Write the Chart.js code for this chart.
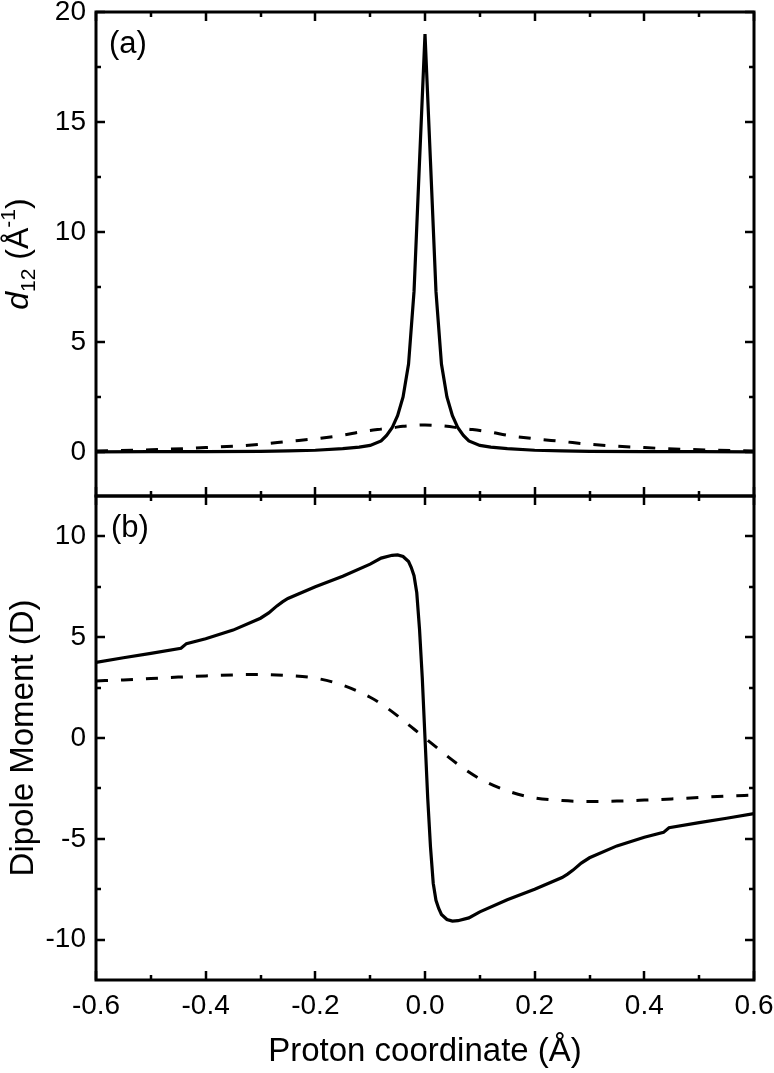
<!DOCTYPE html>
<html>
<head>
<meta charset="utf-8">
<script src="https://cdn.jsdelivr.net/npm/chart.js@4.4.1/dist/chart.umd.min.js"></script>
<style>
  html, body { margin: 0; padding: 0; background: #fff; }
  #wrap { width: 774px; height: 1073px; position: relative; }
</style>
</head>
<body>
<div id="wrap"><canvas id="c" width="774" height="1073"></canvas></div>
<script>
// ---------- data ----------
const xTicks = [-0.6, -0.4, -0.2, 0.0, 0.2, 0.4, 0.6];
const xMinorTicks = [-0.5, -0.3, -0.1, 0.1, 0.3, 0.5];
const yTopTicks = [0, 5, 10, 15, 20];
const yTopMinorTicks = [2.5, 7.5, 12.5, 17.5];
const yBotTicks = [-10, -5, 0, 5, 10];
const yBotMinorTicks = [-7.5, -2.5, 2.5, 7.5];

// panel (a): d12
const xTopSolid = [-0.6, -0.5, -0.4, -0.3, -0.25, -0.2, -0.15, -0.12, -0.1, -0.08, -0.07, -0.06, -0.05, -0.04, -0.03, -0.02, -0.01, 0,
                   0.01, 0.02, 0.03, 0.04, 0.05, 0.06, 0.07, 0.08, 0.1, 0.12, 0.15, 0.2, 0.25, 0.3, 0.4, 0.5, 0.6];
const d12Solid = [0.01, 0.02, 0.02, 0.03, 0.05, 0.08, 0.15, 0.22, 0.3, 0.5, 0.75, 1.1, 1.65, 2.5, 4.0, 7.3, 13.2, 19.0,
                  13.2, 7.3, 4.0, 2.5, 1.65, 1.1, 0.75, 0.5, 0.3, 0.22, 0.15, 0.08, 0.05, 0.03, 0.02, 0.02, 0.01];
const xTopDashed = [-0.6, -0.5, -0.4, -0.3, -0.25, -0.2, -0.15, -0.12, -0.1, -0.08, -0.06, -0.04, -0.02, 0,
                    0.02, 0.04, 0.06, 0.08, 0.1, 0.12, 0.15, 0.2, 0.25, 0.3, 0.4, 0.5, 0.6];
const d12Dashed = [0.05, 0.1, 0.2, 0.35, 0.48, 0.6, 0.76, 0.9, 0.98, 1.04, 1.1, 1.17, 1.21, 1.23,
                   1.21, 1.17, 1.1, 1.04, 0.98, 0.9, 0.76, 0.6, 0.48, 0.35, 0.2, 0.1, 0.05];

// panel (b): dipole moment
const xBotSolid = [-0.6, -0.55, -0.5, -0.445, -0.435, -0.4, -0.35, -0.3, -0.285, -0.27, -0.26, -0.25, -0.2, -0.15, -0.1, -0.08, -0.06, -0.05, -0.04, -0.03, -0.025, -0.02, -0.015, -0.01, -0.005, 0,
                   0.005, 0.01, 0.015, 0.02, 0.025, 0.03, 0.04, 0.05, 0.06, 0.08, 0.1, 0.15, 0.2, 0.25, 0.26, 0.27, 0.285, 0.3, 0.35, 0.4, 0.435, 0.445, 0.5, 0.55, 0.6];
const dipoleSolid = [3.75, 3.98, 4.2, 4.45, 4.68, 4.92, 5.35, 5.94, 6.2, 6.55, 6.75, 6.92, 7.5, 8.02, 8.62, 8.92, 9.06, 9.08, 9.0, 8.75, 8.45, 8.05, 7.2, 5.4, 3.0, 0,
                     -3.0, -5.4, -7.2, -8.05, -8.45, -8.75, -9.0, -9.08, -9.06, -8.92, -8.62, -8.02, -7.5, -6.92, -6.75, -6.55, -6.2, -5.94, -5.35, -4.92, -4.68, -4.45, -4.2, -3.98, -3.75];
const xBotDashed = [-0.6, -0.55, -0.5, -0.45, -0.4, -0.35, -0.3, -0.25, -0.2, -0.15, -0.1, -0.075, -0.05, -0.025, 0,
                    0.025, 0.05, 0.075, 0.1, 0.15, 0.2, 0.25, 0.3, 0.35, 0.4, 0.45, 0.5, 0.55, 0.6];
const dipoleDashed = [2.83, 2.88, 2.95, 3.02, 3.08, 3.13, 3.15, 3.1, 2.97, 2.62, 2.02, 1.6, 1.1, 0.55, 0,
                      -0.55, -1.1, -1.6, -2.02, -2.62, -2.97, -3.1, -3.15, -3.13, -3.08, -3.02, -2.95, -2.88, -2.83];

// ---------- helpers ----------
const pts = (xs, ys) => xs.map((x, i) => ({ x: x, y: ys[i] }));
const FONT = "'Liberation Sans', Arial, Helvetica, sans-serif";

const panelDecor = {
  id: 'panelDecor',
  afterDatasetsDraw(chart) {
    const ctx = chart.ctx;
    const sx = chart.scales.x, yT = chart.scales.yTop, yB = chart.scales.yBot;
    const L = sx.left, R = sx.right;
    ctx.save();
    ctx.strokeStyle = '#000';
    ctx.fillStyle = '#000';
    ctx.lineCap = 'butt';
    // ticks
    ctx.lineWidth = 2.5;
    const hTick = (s, vals, len) => vals.forEach(v => {
      const y = Math.round(s.getPixelForValue(v));
      ctx.beginPath();
      ctx.moveTo(L, y); ctx.lineTo(L + len, y);
      ctx.moveTo(R, y); ctx.lineTo(R - len, y);
      ctx.stroke();
    });
    const vTick = (vals, len) => vals.forEach(v => {
      const x = Math.round(sx.getPixelForValue(v));
      [yT, yB].forEach(s => {
        ctx.beginPath();
        ctx.moveTo(x, s.top); ctx.lineTo(x, s.top + len);
        ctx.moveTo(x, s.bottom); ctx.lineTo(x, s.bottom - len);
        ctx.stroke();
      });
    });
    hTick(yT, yTopTicks, 9); hTick(yT, yTopMinorTicks, 5);
    hTick(yB, yBotTicks, 9); hTick(yB, yBotMinorTicks, 5);
    vTick(xTicks, 9); vTick(xMinorTicks, 5);
    // frames
    ctx.lineWidth = 3;
    [yT, yB].forEach(s => ctx.strokeRect(L, s.top, R - L, s.bottom - s.top));
    // panel labels
    ctx.font = '31px ' + FONT;
    ctx.textBaseline = 'middle';
    ctx.textAlign = 'left';
    ctx.fillText('(a)', L + 13, yT.top + 32);
    ctx.fillText('(b)', L + 15, yB.top + 32);
    // y title of panel (a): d12 (Å-1)
    const cy = (yT.top + yT.bottom) / 2;
    ctx.translate(28, cy);
    ctx.rotate(-Math.PI / 2);
    const parts = [
      { t: 'd', f: 'italic 32px ' + FONT, dy: 0 },
      { t: '12', f: '21px ' + FONT, dy: 7 },
      { t: ' (Å', f: '32px ' + FONT, dy: 0 },
      { t: '-1', f: '21px ' + FONT, dy: -13 },
      { t: ')', f: '32px ' + FONT, dy: 0 }
    ];
    let total = 0;
    parts.forEach(p => { ctx.font = p.f; p.w = ctx.measureText(p.t).width; total += p.w; });
    let px = -total / 2;
    ctx.textBaseline = 'alphabetic';
    parts.forEach(p => { ctx.font = p.f; ctx.fillText(p.t, px, p.dy); px += p.w; });
    ctx.restore();
  }
};

const tickFont = { family: FONT, size: 28 };

new Chart(document.getElementById('c'), {
  type: 'line',
  data: {
    datasets: [
      { data: pts(xTopSolid, d12Solid), yAxisID: 'yTop', borderColor: '#000', borderWidth: 3.2, pointRadius: 0, tension: 0, fill: false },
      { data: pts(xTopDashed, d12Dashed), yAxisID: 'yTop', borderColor: '#000', borderWidth: 3, borderDash: [12, 13], pointRadius: 0, cubicInterpolationMode: 'monotone', fill: false },
      { data: pts(xBotSolid, dipoleSolid), yAxisID: 'yBot', borderColor: '#000', borderWidth: 3.2, pointRadius: 0, tension: 0, fill: false },
      { data: pts(xBotDashed, dipoleDashed), yAxisID: 'yBot', borderColor: '#000', borderWidth: 3, borderDash: [12, 13], pointRadius: 0, cubicInterpolationMode: 'monotone', fill: false }
    ]
  },
  options: {
    responsive: false,
    animation: false,
    devicePixelRatio: 1,
    layout: { padding: { left: 0, right: 20, top: 12, bottom: 0 } },
    plugins: { legend: { display: false }, tooltip: { enabled: false } },
    scales: {
      x: {
        type: 'linear', position: 'bottom', min: -0.6, max: 0.6,
        afterBuildTicks: s => { s.ticks = xTicks.map(v => ({ value: v })); },
        afterFit: s => { s.height = 93; s.paddingLeft = 0; s.paddingRight = 0; },
        ticks: { font: tickFont, color: '#000', padding: 9, autoSkip: false, maxRotation: 0, callback: v => Number(v).toFixed(1) },
        grid: { display: false, drawTicks: false },
        border: { display: false },
        title: { display: true, text: 'Proton coordinate (Å)', color: '#000', font: { family: FONT, size: 33 }, padding: { top: 0, bottom: 1 } }
      },
      yBot: {
        type: 'linear', position: 'left', stack: 'panels', stackWeight: 1, min: -12, max: 12,
        afterBuildTicks: s => { s.ticks = yBotTicks.map(v => ({ value: v })); },
        afterFit: s => { s.width = 96; s.paddingTop = 0; s.paddingBottom = 0; },
        ticks: { font: tickFont, color: '#000', padding: 10 },
        grid: { display: false, drawTicks: false },
        border: { display: false },
        title: { display: true, text: 'Dipole Moment (D)', color: '#000', font: { family: FONT, size: 33 }, padding: { top: 4, bottom: 0 } }
      },
      yTop: {
        type: 'linear', position: 'left', stack: 'panels', stackWeight: 1, min: -2, max: 20,
        afterBuildTicks: s => { s.ticks = yTopTicks.map(v => ({ value: v })); },
        afterFit: s => { s.width = 96; s.paddingTop = 0; s.paddingBottom = 0; },
        ticks: { font: tickFont, color: '#000', padding: 10 },
        grid: { display: false, drawTicks: false },
        border: { display: false }
      }
    }
  },
  plugins: [panelDecor]
});
</script>
</body>
</html>
